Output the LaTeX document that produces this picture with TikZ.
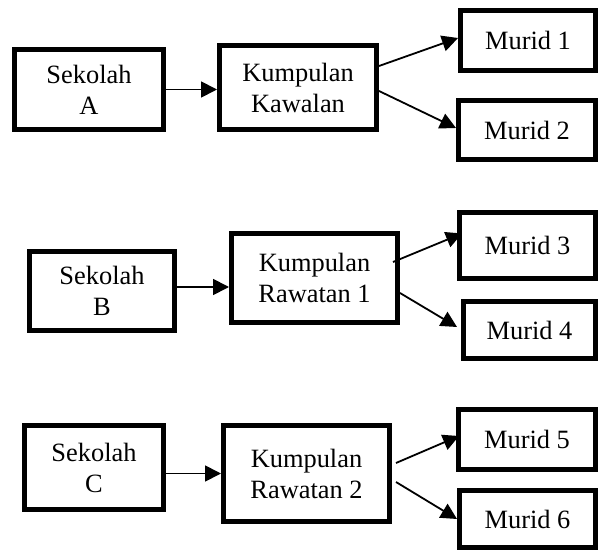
\documentclass[tikz,border=0pt]{standalone}
\usepackage{fontspec}
\setmainfont{Liberation Serif}
\usetikzlibrary{arrows.meta,calc}
\tikzset{
		>={Triangle[length=8pt,width=8pt]},
			box/.style={draw=black, line width=2.5pt, inner sep=0pt,
				align=center, font=\fontsize{13.2}{15.5}\selectfont},
			link/.style={->, line width=0.9pt},
		}

\begin{document}
\begin{tikzpicture}
				\useasboundingbox (0pt,0pt) rectangle (299pt,-275pt);

				% sekolah
				\node[box, minimum width=74.5pt, minimum height=40pt] (sa) at (44.5pt,-44.75pt) {Sekolah\\A};
				\node[box, minimum width=72.5pt, minimum height=39.5pt] (sb) at (51pt,-145.5pt) {Sekolah\\B};
				\node[box, minimum width=69.5pt, minimum height=42pt] (sc) at (47pt,-233.75pt) {Sekolah\\C};

				% kumpulan
				\node[box, minimum width=78.5pt, minimum height=42pt] (kk) at (149pt,-43.75pt) {Kumpulan\\Kawalan};
				\node[box, minimum width=83pt, minimum height=44.5pt] (r1) at (157.25pt,-139pt) {Kumpulan\\Rawatan 1};
				\node[box, minimum width=83pt, minimum height=48pt] (r2) at (153.25pt,-236.75pt) {Kumpulan\\Rawatan 2};

				% murid
				\node[box, minimum width=67.5pt, minimum height=30pt] (m1) at (264pt,-20.25pt) {Murid 1};
				\node[box, minimum width=68.5pt, minimum height=29.5pt] (m2) at (263.5pt,-65pt) {Murid 2};
				\node[box, minimum width=68pt, minimum height=33pt] (m3) at (263.75pt,-122.75pt) {Murid 3};
				\node[box, minimum width=66pt, minimum height=28.5pt] (m4) at (264.75pt,-165pt) {Murid 4};
				\node[box, minimum width=68.5pt, minimum height=30pt] (m5) at (263.5pt,-219.75pt) {Murid 5};
				\node[box, minimum width=68pt, minimum height=28.5pt] (m6) at (263.75pt,-259.5pt) {Murid 6};

				\draw[link] ([xshift=-2.5pt]sa.east) -- (sa.east -| kk.west);
				\draw[link] ([yshift=2pt]sb.east) -- ([yshift=2pt]sb.east -| r1.west);
				\draw[link] (r2.west -| sc.east) -- (r2.west);

				\draw[link] ([yshift=10.75pt]kk.east) -- ([yshift=1.25pt]m1.west);
				\draw[link] ([yshift=-1.75pt]kk.east) -- ([yshift=1pt]m2.west);
				\draw[link] ([xshift=-3.5pt,yshift=8pt]r1.east) -- ([xshift=2.5pt,yshift=6pt]m3.west);
				\draw[link] ([yshift=-7.5pt]r1.east) -- ([xshift=-2pt,yshift=1.5pt]m4.west);
				\draw[link] ([xshift=2pt,yshift=5.25pt]r2.east) -- ([xshift=1.5pt,yshift=1.75pt]m5.west);
				\draw[link] ([xshift=2pt,yshift=-4.25pt]r2.east) -- (m6.west);

			\end{tikzpicture}
\end{document}
